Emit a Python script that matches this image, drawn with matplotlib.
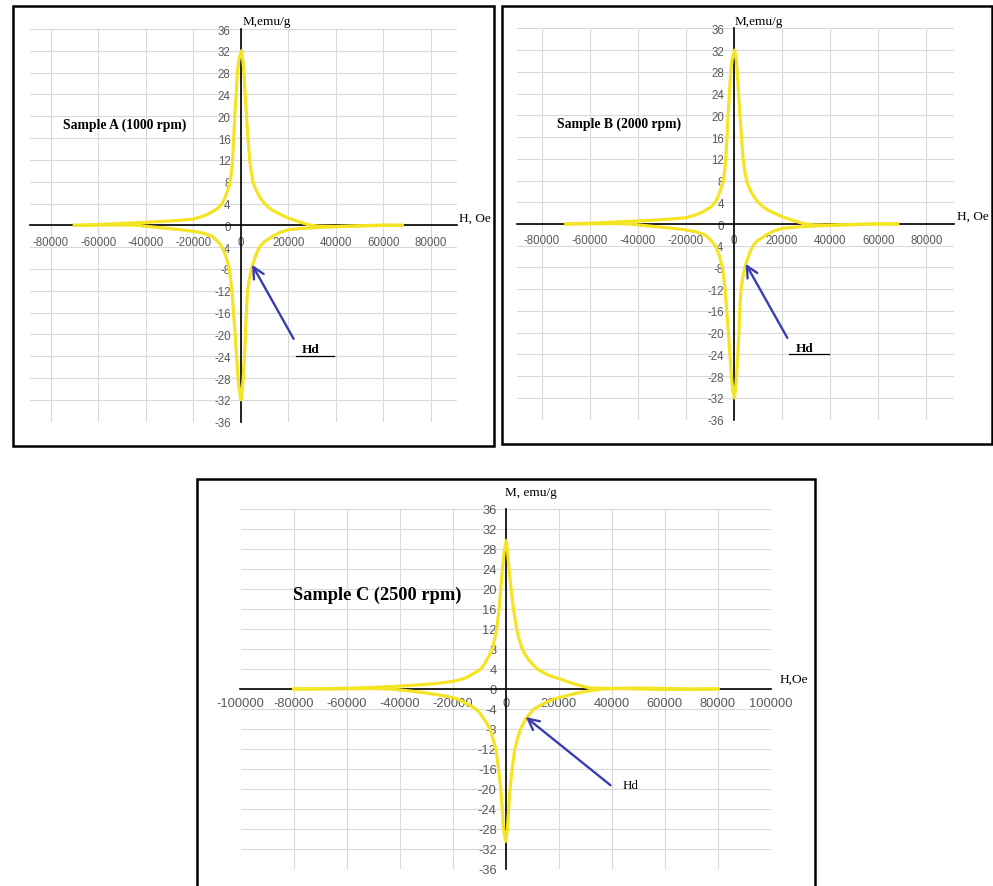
import matplotlib.pyplot as plt
from matplotlib.patches import Rectangle, FancyArrowPatch
from matplotlib.lines import Line2D

plt.rcParams['axes.unicode_minus'] = False

# ---------------- data ----------------
# samples A and B look identical in the picture, so B reuses A's readings
hA_up = [-70000, -60000, -50000, -40000, -30000, -25000, -20000, -16500, -14000, -12000,
         -10000, -8800, -7800, -6700, -5800, -5000, -4400, -3800, -3400, -2900, -2470,
         -1900, -1370, -700, 300, 1000, 1370, 1900, 2470, 3100, 3800, 4400, 5200, 6000,
         7000, 8300, 10000, 12000, 14000, 16800, 20000, 25000, 29000, 33000, 40000,
         50000, 60000, 68000]
mA_up = [0.0, 0.15, 0.35, 0.55, 0.8, 0.95, 1.15, 1.6, 2.0, 2.5,
         3.0, 3.5, 4.0, 5.0, 6.0, 7.0, 8.0, 10.0, 12.0, 16.0, 20.0,
         24.0, 28.0, 30.5, 32.0, 30.0, 28.0, 24.0, 20.0, 16.0, 12.0, 10.0, 8.0, 7.0,
         6.0, 5.0, 4.0, 3.2, 2.6, 2.0, 1.35, 0.6, 0.05, -0.15, -0.2,
         -0.1, 0.0, 0.0]
hA_down = [68000, 60000, 50000, 40000, 30000, 25000, 20000, 16500, 13400, 11500, 10000,
           8800, 7900, 6800, 6000, 5200, 4500, 3600, 2900, 2400, 2050, 1600, 1100, 600,
           200, -500, -1100, -1700, -2330, -3000, -3700, -4200, -4800, -5400, -6000,
           -6800, -7800, -9000, -10500, -12000, -16000, -20000, -25000, -30000, -38000,
           -43000, -50000, -60000, -70000]
mA_down = [0.0, 0.05, -0.1, -0.25, -0.45, -0.6, -0.8, -1.3, -2.0, -2.6, -3.0,
           -3.5, -4.0, -5.0, -6.0, -7.0, -8.0, -10.0, -12.0, -16.0, -20.0, -24.0, -28.0, -30.5,
           -32.0, -30.5, -28.0, -24.0, -20.0, -16.0, -12.0, -10.0, -8.0, -7.0, -6.0,
           -5.0, -4.0, -3.3, -2.6, -2.0, -1.4, -1.1, -0.8, -0.6, -0.25,
           0.0, 0.1, 0.05, 0.0]
hB_up, mB_up, hB_down, mB_down = hA_up, mA_up, hA_down, mA_down

hC_up = [-80000, -70000, -60000, -50000, -43000, -35000, -27000, -20000, -16250, -14000,
         -12500, -10800, -9400, -8000, -7000, -5900, -5000, -4200, -3400, -2500, -1900,
         -1250, -600, 200, 700, 1250, 2000, 2900, 4100, 5000, 6250, 7200, 8500, 10000,
         11900, 13800, 16000, 18000, 20600, 23000, 26000, 29000, 32000, 40000, 50000,
         60000, 70000, 80000]
mC_up = [0.0, 0.05, 0.15, 0.3, 0.5, 0.75, 1.05, 1.5, 2.0, 2.5,
         3.0, 3.5, 4.0, 5.0, 6.0, 7.0, 8.0, 10.0, 12.0, 16.0, 20.0,
         24.0, 27.5, 29.7, 27.5, 24.0, 20.0, 16.0, 12.0, 10.0, 8.0, 7.0, 6.0, 5.0,
         4.0, 3.4, 2.8, 2.4, 2.0, 1.5, 1.0, 0.55, 0.2, 0.1, 0.2,
         0.1, 0.0, 0.0]
hC_down = [80000, 70000, 60000, 50000, 43000, 36700, 33000, 30000, 27000, 24000, 21000,
           18100, 16000, 14000, 12200, 10600, 9000, 7500, 6500, 5600, 4400, 3400, 2400,
           1600, 1100, 625, 0, -875, -1300, -1875, -2700, -3750, -4800, -5900, -7000,
           -8200, -9500, -11250, -12800, -14500, -16200, -18100, -21000, -24000, -30000,
           -37000, -43000, -50000, -60000, -70000, -80000]
mC_down = [0.0, -0.05, -0.1, 0.0, 0.1, 0.0, -0.25, -0.5, -0.8, -1.2, -1.6,
           -2.0, -2.5, -3.0, -3.5, -4.0, -5.0, -6.0, -7.0, -8.0, -10.0, -12.0, -16.0,
           -20.0, -24.0, -28.0, -30.5, -28.0, -24.0, -20.0, -16.0, -12.0, -10.0, -8.0, -7.0,
           -6.0, -5.0, -4.0, -3.5, -3.0, -2.5, -2.0, -1.6, -1.3, -0.8,
           -0.35, 0.0, 0.1, 0.05, 0.0, 0.0]

xticks_AB = list(range(-80000, 80001, 20000))
xticks_C = list(range(-100000, 100001, 20000))
yticks = list(range(-36, 37, 4))

# ---------------- figure ----------------
W, H = 993, 887
fig = plt.figure(figsize=(W / 100, H / 100), dpi=100)

YELLOW = '#f4e424'
BLUE = '#3a3db0'
GRID = '#d9d9d9'
TICKCOL = '#595959'
TICKFONT = ['Liberation Sans Narrow', 'Liberation Sans', 'DejaVu Sans']
SERIF = ['Liberation Serif', 'DejaVu Serif']


def box(l, t, r, b):
    # pixel box (top-left origin) -> figure fraction
    return [l / W, 1 - b / H, (r - l) / W, (b - t) / H]


def make_panel(rect, xlim, xticks, hu, mu, hd, md, fs, xpad, ypad):
    ax = fig.add_axes(rect)
    ax.set_xlim(*xlim)
    ax.set_ylim(-36, 36)
    ax.set_xticks(xticks)
    ax.set_yticks(yticks)
    ax.spines['top'].set_visible(False)
    ax.spines['right'].set_visible(False)
    ax.spines['left'].set_position(('data', 0))
    ax.spines['bottom'].set_position(('data', 0))
    for s in ['left', 'bottom']:
        ax.spines[s].set_linewidth(1.2)
        ax.spines[s].set_color('black')
    ax.grid(True, color=GRID, lw=0.8)
    ax.set_axisbelow('line')
    ax.tick_params(length=0, labelcolor=TICKCOL, labelsize=fs)
    ax.tick_params(axis='x', pad=xpad)
    ax.tick_params(axis='y', pad=ypad)
    for lab in ax.get_xticklabels() + ax.get_yticklabels():
        lab.set_family(TICKFONT)
    ax.plot(hu, mu, color=YELLOW, lw=2.3, zorder=3, solid_joinstyle='round')
    ax.plot(hd, md, color=YELLOW, lw=2.3, zorder=3, solid_joinstyle='round')
    ax.patch.set_alpha(0)
    return ax


axA = make_panel(box(30, 30, 457, 422.7), (-88700, 91100), xticks_AB,
                 hA_up, mA_up, hA_down, mA_down, 8.3, 7.5, 7.2)
axB = make_panel(box(517.3, 29.3, 954, 420.7), (-90100, 91480), xticks_AB,
                 hB_up, mB_up, hB_down, mB_down, 8.3, 7.5, 7.2)
axC = make_panel(box(240.5, 510, 771, 870), (-100000, 100000), xticks_C,
                 hC_up, mC_up, hC_down, mC_down, 9.3, 6.0, 6.5)


def ftext(x, y, s, **kw):
    fig.text(x / W, 1 - y / H, s, family=SERIF, va='baseline', **kw)


# axis titles
ftext(242.3, 25, 'M,emu/g', fontsize=9.5)
ftext(459, 221.7, 'H, Oe', fontsize=9.5)
ftext(735, 25, 'M,emu/g', fontsize=9.5)
ftext(956.7, 220, 'H, Oe', fontsize=9.5)
ftext(505, 496.3, 'M, emu/g', fontsize=9.5)
ftext(780, 683, 'H,Oe', fontsize=9.6)

# sample names
ftext(124.7, 129.3, 'Sample A (1000 rpm)', fontsize=9.8, weight='bold', ha='center')
ftext(619, 127.7, 'Sample B (2000 rpm)', fontsize=9.8, weight='bold', ha='center')
ftext(376.7, 599.7, 'Sample C (2500 rpm)', fontsize=13.2, weight='bold', ha='center')

# Hd labels
ftext(301.7, 353.3, 'Hd', fontsize=9.5, weight='bold')
ftext(796, 352, 'Hd', fontsize=9.5, weight='bold')
ftext(622.6, 788.7, 'Hd', fontsize=9.3)
for x0, x1, y in [(296, 334, 357), (789, 829, 355.3)]:
    fig.add_artist(Line2D([x0 / W, x1 / W], [1 - y / H, 1 - y / H],
                          transform=fig.transFigure, color='black', lw=0.9))

# arrows pointing at Hd
for tail, tip in [((295, 342.3), (250.7, 263.3)),
                  ((788.7, 341.3), (744.3, 262.3)),
                  ((612.7, 788), (523.6, 716.3))]:
    fig.add_artist(FancyArrowPatch(
        (tail[0] / W, 1 - tail[1] / H), (tip[0] / W, 1 - tip[1] / H),
        transform=fig.transFigure, arrowstyle='->,head_length=8,head_width=4',
        color=BLUE, lw=1.7, mutation_scale=1))

# panel frames
for l, t, r, b in [(12.7, 7.3, 494, 446.7), (501.7, 6.7, 991.7, 445), (196.7, 479.7, 815, 900)]:
    fig.add_artist(Rectangle((l / W, 1 - b / H), (r - l) / W, (b - t) / H,
                             transform=fig.transFigure, fill=False, ec='black', lw=1.8))

fig.savefig('out.png', dpi=100)
